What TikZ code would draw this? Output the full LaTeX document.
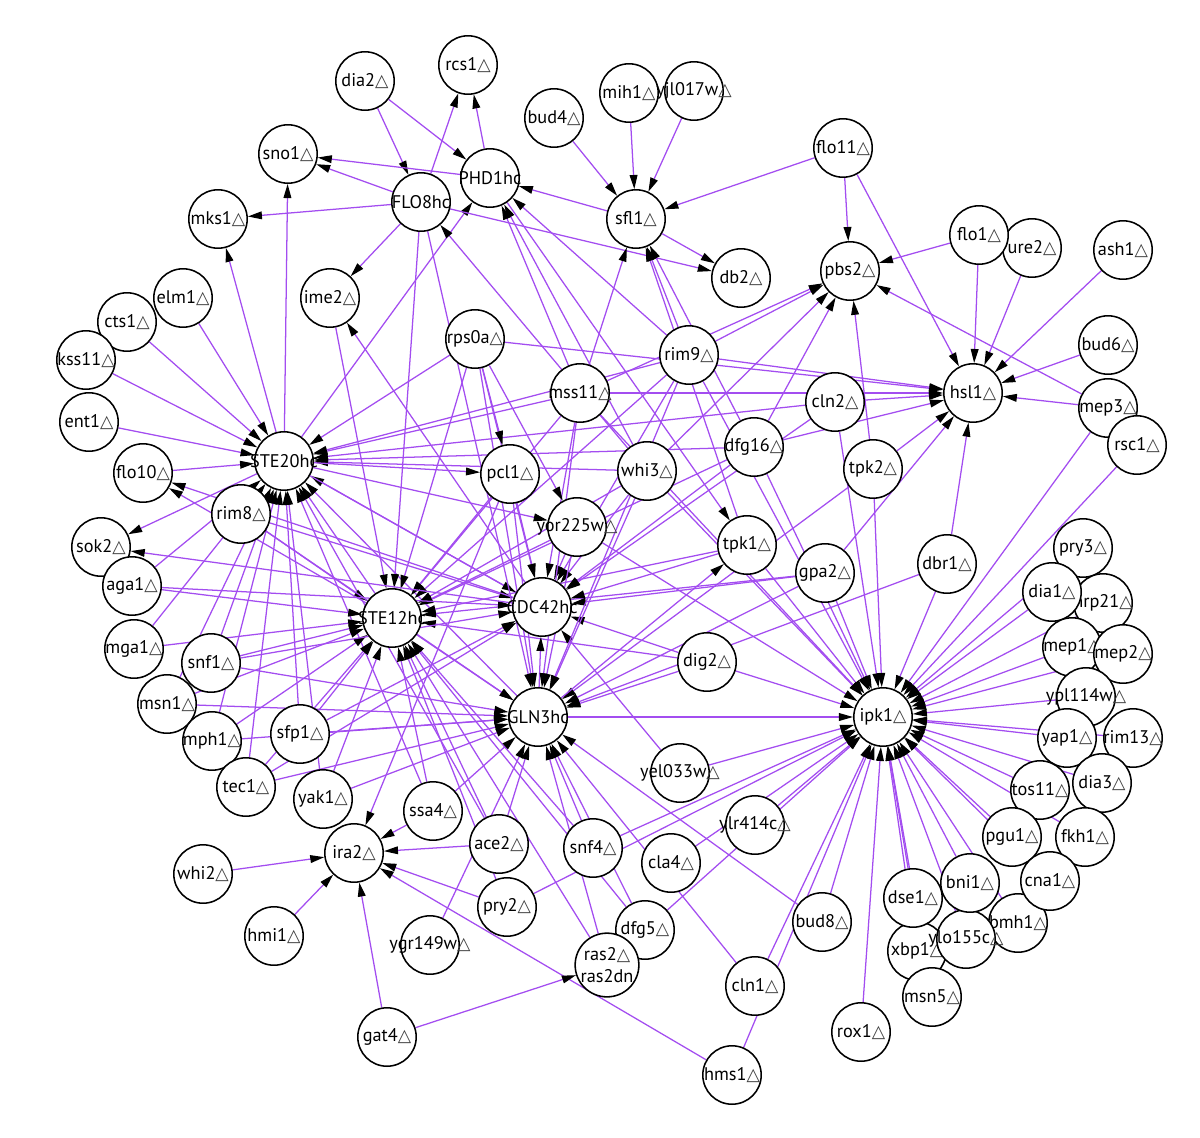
\documentclass[tikz,border=0pt]{standalone}
\usepackage{fontspec}
\setmainfont{PT Sans}
\newfontfamily\symfont{DejaVu Sans}
\usetikzlibrary{arrows.meta}
\pgfdeclarelayer{background}
\pgfsetlayers{background,main}
\definecolor{linkpurple}{RGB}{163,77,240}
\newcommand{\dl}{{\symfont\color{black!75}\scalebox{0.95}{△}}}
\newcommand{\gl}[1]{\makebox[0pt][c]{#1}}

\tikzset{
  gene/.style={circle, draw, line width=1.1pt, fill=white, minimum size=1.46cm,
    inner sep=0pt, font=\fontsize{13}{15}\selectfont},
  link/.style={draw=linkpurple, line width=0.9pt,
    -{Triangle[length=10pt,width=5.5pt,color=black]}},
}

\begin{document}
\begin{tikzpicture}[x=0.025cm, y=-0.025cm]
\useasboundingbox (0,0) rectangle (1200,1137);

% top
\node[gene] (dia2) at (365,81) {\gl{dia2\dl}};
\node[gene] (rcs1) at (468,65) {\gl{rcs1\dl}};
\node[gene] (sno1) at (288,154) {\gl{sno1\dl}};
\node[gene] (mks1) at (218,219) {\gl{mks1\dl}};
\node[gene] (FLO8hc) at (421,202) {\gl{FLO8hc}};
\node[gene] (PHD1hc) at (490,178) {\gl{PHD1hc}};
\node[gene] (bud4) at (554,118) {\gl{bud4\dl}};
\node[gene] (mih1) at (629,93) {\gl{mih1\dl}};
\node[gene] (yjl017w) at (694,91) {\gl{yjl017w\dl}};
\node[gene] (sfl1) at (636,219) {\gl{sfl1\dl}};
\node[gene] (flo11) at (843,148) {\gl{flo11\dl}};
\node[gene] (pbs2) at (850,271) {\gl{pbs2\dl}};
\node[gene] (db2) at (741,278) {\gl{db2\dl}};
\node[gene] (ure2) at (1032,248) {\gl{ure2\dl}};
\node[gene] (flo1) at (979,235) {\gl{flo1\dl}};
\node[gene] (ash1) at (1123,250) {\gl{ash1\dl}};

% left
\node[gene] (elm1) at (183,298) {\gl{elm1\dl}};
\node[gene] (cts1) at (127,322) {\gl{cts1\dl}};
\node[gene] (kss11) at (86,360) {\gl{kss11\dl}};
\node[gene] (ent1) at (89,422) {\gl{ent1\dl}};
\node[gene] (flo10) at (143,473) {\gl{flo10\dl}};
\node[gene] (sok2) at (101,547) {\gl{sok2\dl}};
\node[gene] (aga1) at (132,586) {\gl{aga1\dl}};
\node[gene] (mga1) at (134,649) {\gl{mga1\dl}};
\node[gene] (msn1) at (167,704) {\gl{msn1\dl}};
\node[gene] (snf1) at (211,663) {\gl{snf1\dl}};
\node[gene] (mph1) at (212,741) {\gl{mph1\dl}};
\node[gene] (tec1) at (246,787) {\gl{tec1\dl}};
\node[gene] (sfp1) at (300,734) {\gl{sfp1\dl}};
\node[gene] (yak1) at (323,799) {\gl{yak1\dl}};
\node[gene] (rim8) at (241,514) {\gl{rim8\dl}};
\node[gene] (ime2) at (330,298) {\gl{ime2\dl}};
\node[gene] (STE20hc) at (284,461) {\gl{STE20hc}};
\node[gene] (STE12hc) at (392,618) {\gl{STE12hc}};

% middle
\node[gene] (rps0a) at (475,339) {\gl{rps0a\dl}};
\node[gene] (mss11) at (580,393) {\gl{mss11\dl}};
\node[gene] (rim9) at (689,355) {\gl{rim9\dl}};
\node[gene] (pcl1) at (510,474) {\gl{pcl1\dl}};
\node[gene] (whi3) at (647,471) {\gl{whi3\dl}};
\node[gene] (dfg16) at (754,447) {\gl{dfg16\dl}};
\node[gene] (yor225w) at (577,527) {\gl{yor225w\dl}};
\node[gene] (tpk1) at (747,545) {\gl{tpk1\dl}};
\node[gene] (gpa2) at (825,573) {\gl{gpa2\dl}};
\node[gene] (CDC42hc) at (542,607) {\gl{CDC42hc}};
\node[gene] (dig2) at (707,662) {\gl{dig2\dl}};
\node[gene] (GLN3hc) at (538,717) {\gl{GLN3hc}};
\node[gene] (yel033w) at (680,773) {\gl{yel033w\dl}};
\node[gene] (ylr414c) at (755,825) {\gl{ylr414c\dl}};

% right
\node[gene] (hsl1) at (973,393) {\gl{hsl1\dl}};
\node[gene] (bud6) at (1108,345) {\gl{bud6\dl}};
\node[gene] (mep3) at (1108,408) {\gl{mep3\dl}};
\node[gene] (rsc1) at (1137,445) {\gl{rsc1\dl}};
\node[gene] (cln2) at (835,402) {\gl{cln2\dl}};
\node[gene] (tpk2) at (873,469) {\gl{tpk2\dl}};
\node[gene] (dbr1) at (947,564) {\gl{dbr1\dl}};
\node[gene] (pry3) at (1083,548) {\gl{pry3\dl}};
\node[gene] (nrp21) at (1103,603) {\gl{nrp21\dl}};
\node[gene] (dia1) at (1052,592) {\gl{dia1\dl}};
\node[gene] (mep1) at (1072,647) {\gl{mep1\dl}};
\node[gene] (mep2) at (1123,654) {\gl{mep2\dl}};
\node[gene] (ypl114w) at (1086,697) {\gl{ypl114w\dl}};
\node[gene] (yap1) at (1067,738) {\gl{yap1\dl}};
\node[gene] (rim13) at (1133,738) {\gl{rim13\dl}};
\node[gene] (tos11) at (1040,790) {\gl{tos11\dl}};
\node[gene] (dia3) at (1102,783) {\gl{dia3\dl}};
\node[gene] (pgu1) at (1012,837) {\gl{pgu1\dl}};
\node[gene] (fkh1) at (1085,837) {\gl{fkh1\dl}};
\node[gene] (bmh1) at (1018,923) {\gl{bmh1\dl}};
\node[gene] (cna1) at (1050,881) {\gl{cna1\dl}};
\node[gene] (xbp1) at (917,951) {\gl{xbp1\dl}};
\node[gene] (ylo155c) at (966,939) {\gl{ylo155c\dl}};
\node[gene] (bni1) at (970,883) {\gl{bni1\dl}};
\node[gene] (dse1) at (913,898) {\gl{dse1\dl}};
\node[gene] (msn5) at (932,997) {\gl{msn5\dl}};
\node[gene] (ipk1) at (883,717) {\gl{ipk1\dl}};

% bottom
\node[gene] (ira2) at (354,853) {\gl{ira2\dl}};
\node[gene] (ssa4) at (433,811) {\gl{ssa4\dl}};
\node[gene] (whi2) at (203,874) {\gl{whi2\dl}};
\node[gene] (hmi1) at (274,936) {\gl{hmi1\dl}};
\node[gene] (ace2) at (499,844) {\gl{ace2\dl}};
\node[gene] (snf4) at (593,848) {\gl{snf4\dl}};
\node[gene] (cla4) at (671,863) {\gl{cla4\dl}};
\node[gene] (pry2) at (507,907) {\gl{pry2\dl}};
\node[gene] (ygr149w) at (430,945) {\gl{ygr149w\dl}};
\node[gene] (dfg5) at (645,930) {\gl{dfg5\dl}};
\node[gene, align=center, font=\fontsize{13}{16}\selectfont] (ras2) at (607,965) {ras2\dl\\ras2dn};
\node[gene] (bud8) at (822,922) {\gl{bud8\dl}};
\node[gene] (cln1) at (755,986) {\gl{cln1\dl}};
\node[gene] (gat4) at (387,1037) {\gl{gat4\dl}};
\node[gene] (rox1) at (861,1032) {\gl{rox1\dl}};
\node[gene] (hms1) at (732,1075) {\gl{hms1\dl}};

\begin{pgfonlayer}{background}
% upper part
\foreach \s/\t in {dia2/FLO8hc, dia2/PHD1hc, FLO8hc/rcs1, PHD1hc/rcs1,
    PHD1hc/sno1, FLO8hc/sno1, STE20hc/sno1, FLO8hc/mks1, STE20hc/mks1,
    FLO8hc/ime2, STE20hc/PHD1hc, sfl1/PHD1hc, mss11/PHD1hc, whi3/PHD1hc,
    rim9/PHD1hc, PHD1hc/tpk1, whi3/FLO8hc, FLO8hc/db2, sfl1/db2,
    bud4/sfl1, mih1/sfl1, yjl017w/sfl1, flo11/sfl1, rim9/sfl1, mss11/sfl1,
    tpk1/sfl1, dfg16/sfl1}
  \draw[link] (\s) -- (\t);
% pbs2 and hsl1
\foreach \s in {flo11, flo1, rim9, mss11, whi3, dfg16, tpk2, mep3}
  \draw[link] (\s) -- (pbs2);
\foreach \s in {flo11, flo1, ure2, ash1, bud6, mep3, rps0a, rim9, mss11,
    cln2, dfg16, tpk2, gpa2, dbr1}
  \draw[link] (\s) -- (hsl1);
% STE20hc
\foreach \s in {elm1, cts1, kss11, ent1, flo10, rps0a, mss11, rim9, cln2,
    dfg16, whi3, rim8, aga1, mga1, snf1, msn1, mph1, sfp1, tec1, yak1,
    STE12hc, GLN3hc, CDC42hc, ssa4, ace2}
  \draw[link] (\s) -- (STE20hc);
\foreach \t in {pcl1, yor225w, sok2}
  \draw[link] (STE20hc) -- (\t);
% STE12hc
\foreach \s in {rim8, aga1, mga1, snf1, msn1, mph1, sfp1, tec1, yak1, ssa4,
    ace2, ras2, snf4, rps0a, mss11, pcl1, rim9, whi3, dfg16, gpa2, tpk1, dig2,
    yor225w, dfg5, ime2, FLO8hc, pry2}
  \draw[link] (\s) -- (STE12hc);
% CDC42hc
\foreach \s in {rim8, aga1, snf1, pcl1, rps0a, mss11, whi3, yor225w, dfg16,
    tpk1, gpa2, dig2, GLN3hc, yel033w, cln2, STE20hc, rim9, sfp1, tec1}
  \draw[link] (\s) -- (CDC42hc);
\foreach \t in {flo10, sok2, ime2}
  \draw[link] (CDC42hc) -- (\t);
\draw[link] (STE12hc) -- (flo10);
% GLN3hc
\foreach \s in {yor225w, whi3, mss11, pcl1, rps0a, rim9, gpa2, tpk2, dig2,
    snf1, sfp1, mph1, tec1, yak1, msn1, rim8, ssa4, ace2, snf4, ras2, cln1,
    dfg5, ygr149w, STE12hc, FLO8hc, bud8, dbr1}
  \draw[link] (\s) -- (GLN3hc);
\draw[link] (GLN3hc) -- (tpk1);
% ipk1
\foreach \s in {pry3, dia1, nrp21, mep1, mep2, ypl114w, yap1, rim13, tos11,
    dia3, pgu1, fkh1, cna1, bni1, bmh1, ylo155c, dse1, xbp1, msn5, rox1,
    bud8, cln1, hms1, dfg5, ylr414c, cla4, snf4, yel033w, GLN3hc, dig2, gpa2,
    tpk1, dbr1, mep3, rsc1, tpk2, cln2, dfg16, rim9, whi3, mss11, yor225w,
    pry2}
  \draw[link] (\s) -- (ipk1);
% ira2 and ras2
\foreach \s in {whi2, hmi1, gat4, hms1, ssa4, ace2, pry2, pcl1}
  \draw[link] (\s) -- (ira2);
\draw[link] (gat4) -- (ras2);
\draw[link] (rps0a) -- (pcl1);
\draw[link] (rps0a) -- (yor225w);
\end{pgfonlayer}
\end{tikzpicture}
\end{document}
